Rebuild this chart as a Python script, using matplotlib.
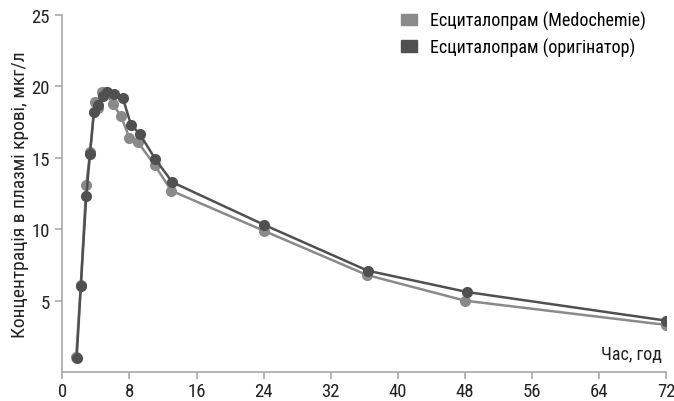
import matplotlib
matplotlib.use("Agg")
import matplotlib.pyplot as plt
from matplotlib.patches import Patch

# Data
t_med = [1.65, 2.2, 2.85, 3.3, 3.9, 4.3, 4.7, 5.2, 6.0, 7.0, 8.0, 9.0, 11.0, 13.0, 24.0, 36.3, 48.0, 72.0]
c_med = [1.05, 6.1, 13.1, 15.4, 18.9, 18.5, 19.6, 19.6, 18.8, 17.9, 16.4, 16.1, 14.5, 12.7, 9.9, 6.8, 5.0, 3.3]

t_org = [1.7, 2.2, 2.85, 3.3, 3.75, 4.3, 4.8, 5.3, 6.2, 7.2, 8.2, 9.2, 11.1, 13.1, 24.1, 36.4, 48.3, 72.0]
c_org = [0.95, 6.0, 12.3, 15.3, 18.2, 18.7, 19.3, 19.6, 19.5, 19.2, 17.3, 16.7, 14.9, 13.3, 10.3, 7.1, 5.6, 3.6]

x_ticks = [0, 8, 16, 24, 32, 40, 48, 56, 64, 72]
y_ticks = [5, 10, 15, 20, 25]

label_med = "Есциталопрам (Medochemie)"
label_org = "Есциталопрам (оригінатор)"

col_med = "#8a8a8a"
col_org = "#505050"
axis_col = "#a8a8a8"

fam = ["Roboto Condensed", "Liberation Sans Narrow", "Arial Narrow", "Roboto", "DejaVu Sans"]
plt.rcParams["font.family"] = fam
plt.rcParams["font.stretch"] = "condensed"

fig = plt.figure(figsize=(6.74, 4.02), dpi=100)
ax = fig.add_axes([0.0925, 0.072, 0.896, 0.888])

ax.plot(t_org, c_org, color=col_org, lw=1.8, marker="o", ms=7, zorder=3)
ax.plot(t_med, c_med, color=col_med, lw=1.8, marker="o", ms=7, zorder=2)

ax.set_xlim(0, 72)
ax.set_ylim(0, 25)
ax.set_xticks(x_ticks)
ax.set_yticks(y_ticks)

for s in ["top", "right"]:
    ax.spines[s].set_visible(False)
for s in ["left", "bottom"]:
    ax.spines[s].set_color(axis_col)
    ax.spines[s].set_linewidth(1.2)
ax.tick_params(colors=axis_col, labelcolor="#222222", labelsize=13.5, length=5, width=1.2)
ax.tick_params(axis="x", pad=2)
ax.tick_params(axis="y", pad=4)

ax.set_ylabel("Концентрація в плазмі крові, мкг/л", fontsize=14, color="#222222", labelpad=2)
ax.text(0.992, 0.025, "Час, год", transform=ax.transAxes, ha="right", va="bottom",
        fontsize=13, color="#222222")

handles = [Patch(color=col_med), Patch(color=col_org)]
ax.legend(handles, [label_med, label_org], loc="upper right", bbox_to_anchor=(0.978, 1.032),
          frameon=False, fontsize=13, handletextpad=0.7, labelspacing=0.42,
          handlelength=0.9, handleheight=0.6, borderaxespad=0)

fig.savefig("out.png", dpi=100)
